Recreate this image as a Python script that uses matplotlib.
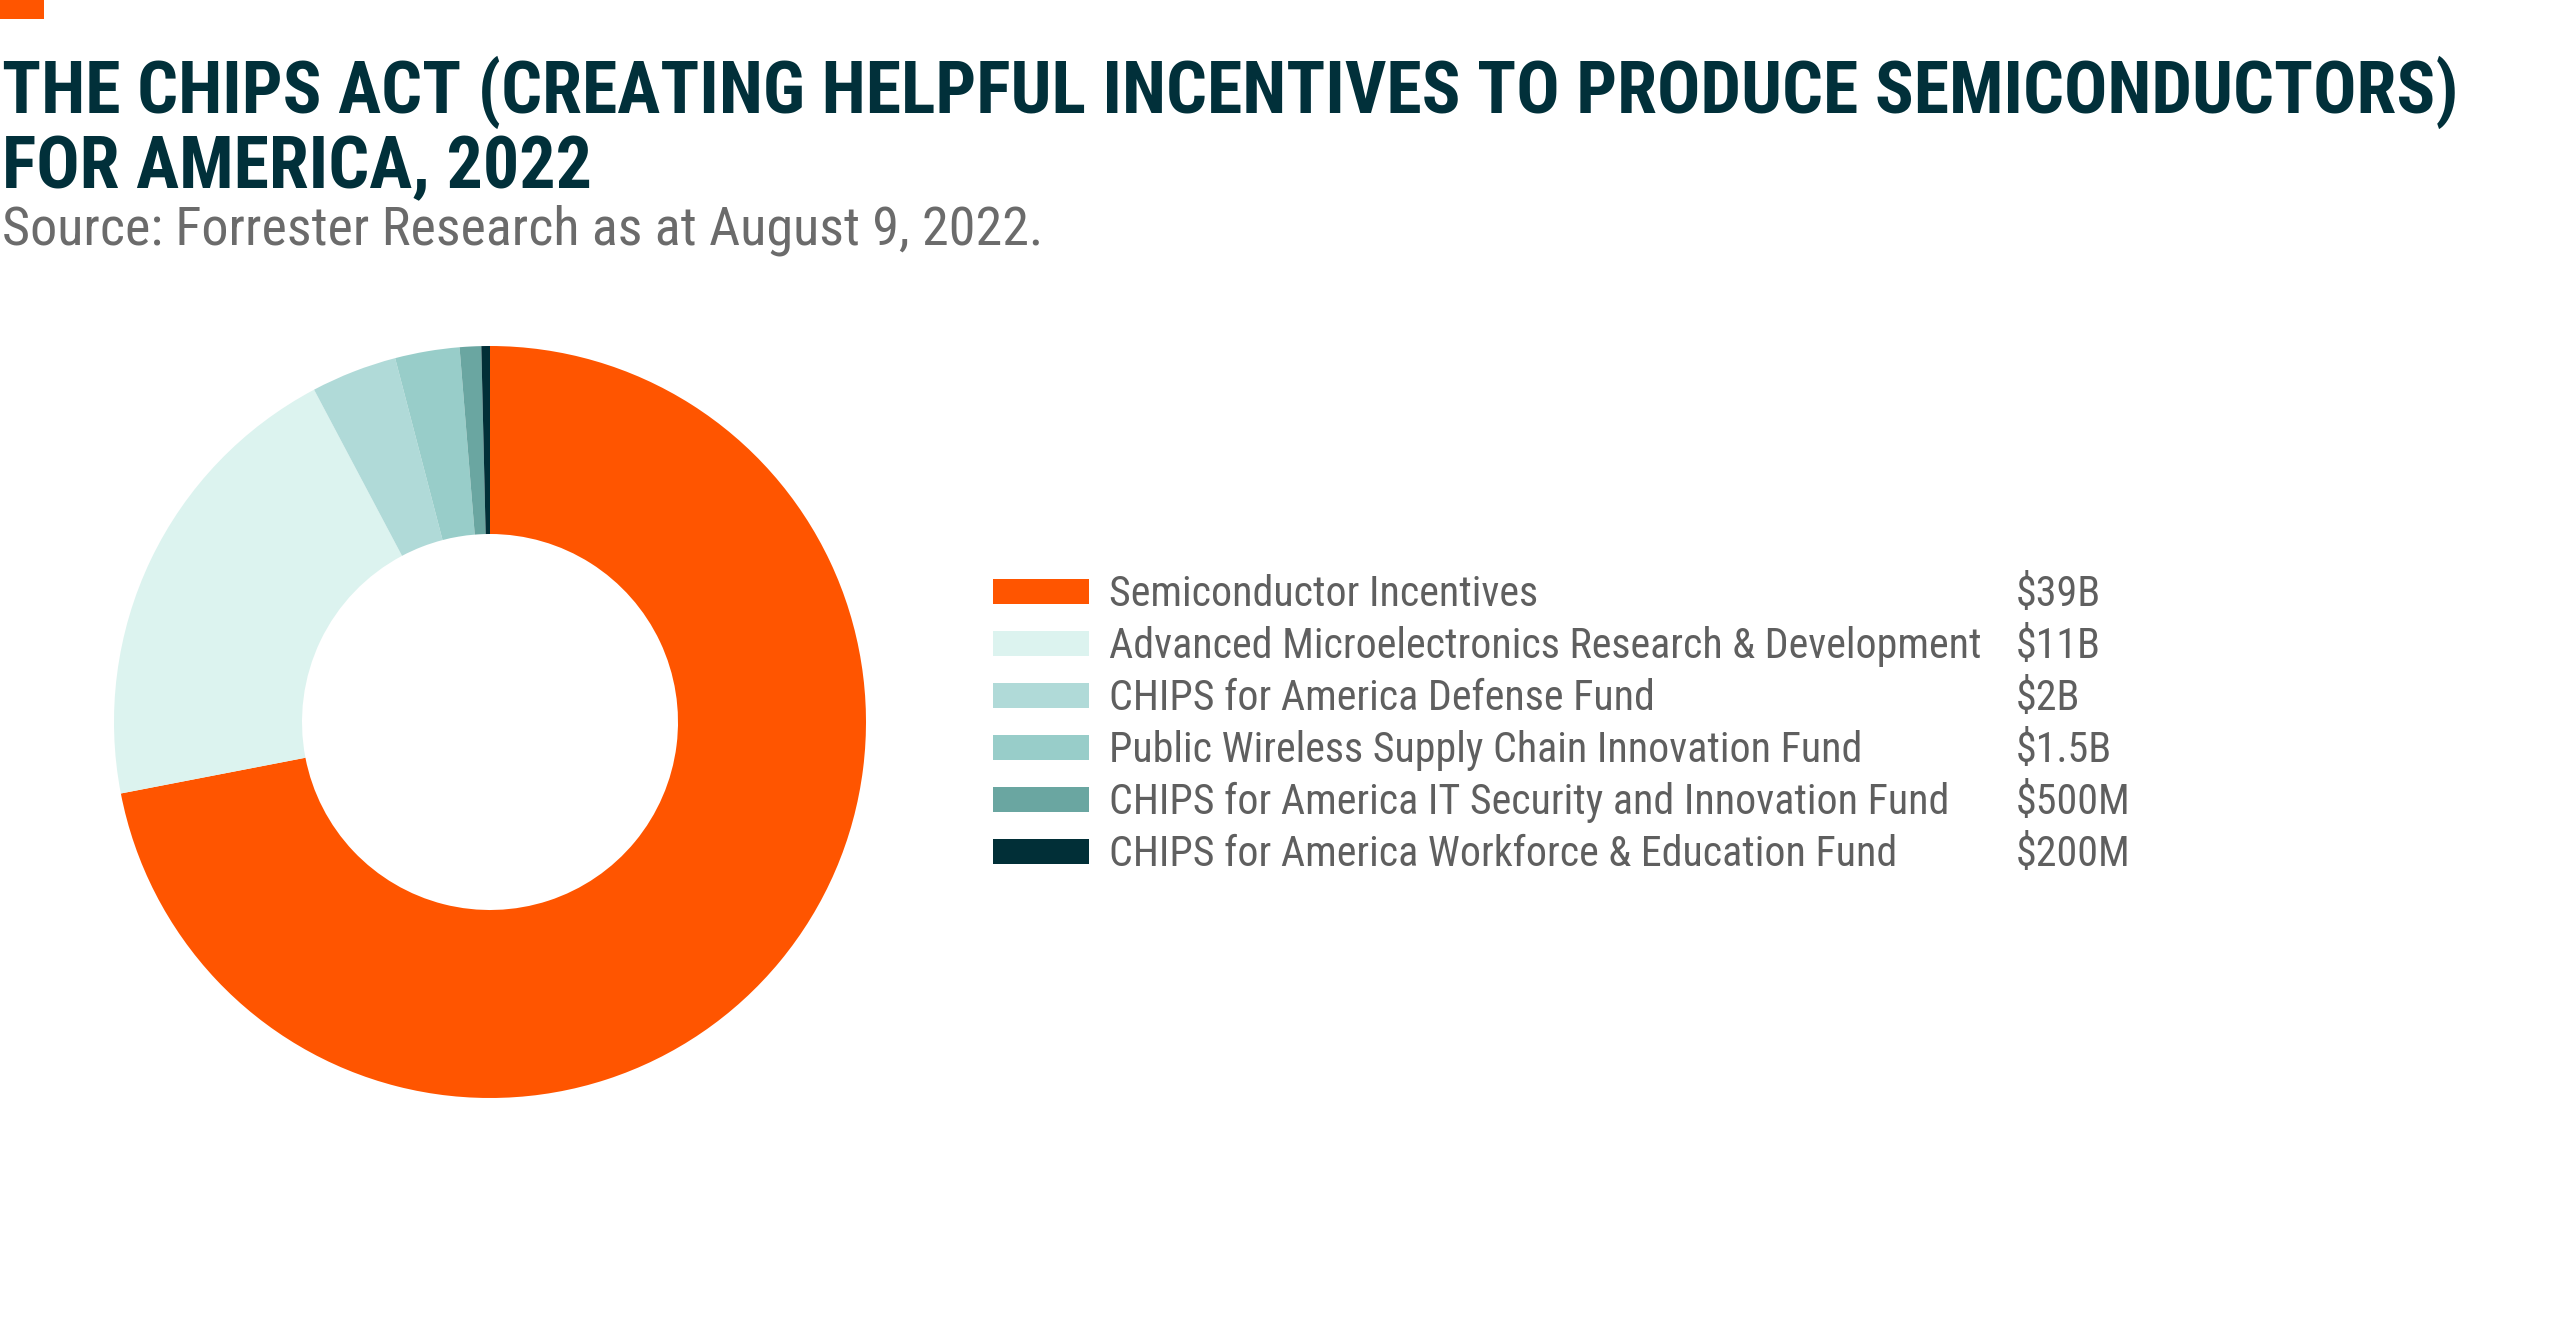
import matplotlib
matplotlib.use("Agg")
import matplotlib.pyplot as plt
from matplotlib import font_manager
from matplotlib.patches import Rectangle

# data
categories = [
    "Semiconductor Incentives",
    "Advanced Microelectronics Research & Development",
    "CHIPS for America Defense Fund",
    "Public Wireless Supply Chain Innovation Fund",
    "CHIPS for America IT Security and Innovation Fund",
    "CHIPS for America Workforce & Education Fund",
]
amounts_bn = [39, 11, 2, 1.5, 0.5, 0.2]
amount_labels = ["$39B", "$11B", "$2B", "$1.5B", "$500M", "$200M"]
colors = ["#FF5500", "#DCF3EF", "#B0DAD8", "#98CDC9", "#6AA6A1", "#012F37"]

title_lines = [
    "THE CHIPS ACT (CREATING HELPFUL INCENTIVES TO PRODUCE SEMICONDUCTORS)",
    "FOR AMERICA, 2022",
]
source = "Source: Forrester Research as at August 9, 2022."

# pick a narrow font if one exists
fonts = font_manager.fontManager.ttflist
names = {f.name for f in fonts}
font_kw = {"family": "Roboto"}
for n in ["Roboto Condensed", "Open Sans Condensed", "Liberation Sans Narrow"]:
    if n in names:
        font_kw = {"family": n}
        break
else:
    if any(f.name == "DejaVu Sans" and f.stretch == "condensed" for f in fonts):
        font_kw = {"family": "DejaVu Sans", "stretch": "condensed"}

W, H = 2560, 1321
fig = plt.figure(figsize=(W / 100, H / 100), dpi=100)
fig.patch.set_facecolor("white")


def fx(px):
    return px / W


def fy(py):
    return 1 - py / H


# small orange tag top left
fig.patches.append(Rectangle((0, fy(19)), fx(44), 19 / H, transform=fig.transFigure,
                             facecolor="#FF5500", edgecolor="none"))

# donut
R = 376
cx, cy = 490, 722
ax = fig.add_axes([fx(cx - R), fy(cy + R), 2 * R / W, 2 * R / H])
ax.pie(amounts_bn, colors=colors, startangle=90, counterclock=False,
       wedgeprops=dict(width=0.5, linewidth=0))
ax.set_xlim(-1, 1)
ax.set_ylim(-1, 1)
ax.set_aspect("equal")
ax.axis("off")

# texts
t1 = fig.text(fx(2), fy(113), title_lines[0], fontsize=50, fontweight="bold",
              color="#01303A", va="baseline", **font_kw)
t2 = fig.text(fx(2), fy(188), title_lines[1], fontsize=50, fontweight="bold",
              color="#01303A", va="baseline", **font_kw)
ts = fig.text(fx(2), fy(245), source, fontsize=30, color="#6B6B6B",
              va="baseline", **font_kw)

row0, step = 592, 52.0
labels = []
vals = []
for i, (cat, lab, col) in enumerate(zip(categories, amount_labels, colors)):
    yc = row0 + i * step
    fig.patches.append(Rectangle((fx(993), fy(yc + 12)), fx(96), 25 / H,
                                 transform=fig.transFigure, facecolor=col,
                                 edgecolor="none"))
    labels.append(fig.text(fx(1109), fy(yc + 14), cat, fontsize=26, color="#5F5F5F",
                           va="baseline", **font_kw))
    vals.append(fig.text(fx(2016), fy(yc + 14), lab, fontsize=26, color="#5F5F5F",
                         va="baseline", **font_kw))

# size the text to the reference widths
fig.canvas.draw()
r = fig.canvas.get_renderer()


def fit(t, target, cap):
    w = t.get_window_extent(r).width
    return min(t.get_fontsize() * target / w, cap)


title_size = fit(t1, 2458, 60)
t1.set_fontsize(title_size)
t2.set_fontsize(title_size)
ts.set_fontsize(fit(ts, 1040, 40))
leg_size = fit(labels[1], 872, 34)
for t in labels + vals:
    t.set_fontsize(leg_size)

fig.savefig("out.png", dpi=100, facecolor="white")
